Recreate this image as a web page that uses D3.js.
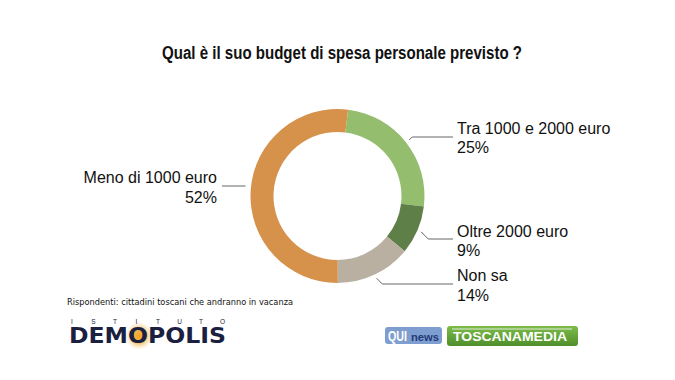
<!DOCTYPE html>
<html><head><meta charset="utf-8">
<script src="https://cdn.jsdelivr.net/npm/d3@7"></script>
<style>body{margin:0;background:#fff}svg{display:block}</style>
</head><body>
<svg id="c" width="675" height="380"></svg>
<script>
const categories = ["Tra 1000 e 2000 euro","Oltre 2000 euro","Non sa","Meno di 1000 euro"];
const values = [25, 9, 14, 52];
const colors = ["#94bd6e","#5f7f48","#b9b0a1","#d6914b"];
const title = "Qual è il suo budget di spesa personale previsto ?";
const note = "Rispondenti: cittadini toscani che andranno in vacanza";

const svg = d3.select("#c");
const W = 675, H = 380;
svg.append("rect").attr("width",W).attr("height",H).attr("fill","#fff");

svg.append("text").attr("x",342).attr("y",59).attr("text-anchor","middle")
  .attr("font-family","'Liberation Sans Narrow','Liberation Sans',Arial,sans-serif")
  .attr("font-weight","bold").attr("font-size",18).attr("fill","#111")
  .attr("textLength",360).attr("lengthAdjust","spacingAndGlyphs").text(title);

const cx = 337.5, cy = 196, R = 87, r = 64;
const start = 7 * Math.PI / 180;
const pie = d3.pie().sort(null).value(d => d).startAngle(start).endAngle(start + 2*Math.PI);
const arcs = pie(values);
const arc = d3.arc().innerRadius(r).outerRadius(R);
const g = svg.append("g").attr("transform",`translate(${cx},${cy})`);
g.selectAll("path").data(arcs).enter().append("path")
  .attr("d",arc).attr("fill",(d,i)=>colors[i]);

// labels
const font = "'Liberation Sans',Arial,Helvetica,sans-serif";
const lab = [
  {i:0, tx:457, y1:134, y2:153, anchor:"start", lineY:137},
  {i:1, tx:457, y1:237, y2:256, anchor:"start", lineY:239},
  {i:2, tx:457, y1:281, y2:301, anchor:"start", lineY:284},
  {i:3, tx:217, y1:183, y2:203, anchor:"end", lineY:186}
];
const lineR = R + 4;
lab.forEach(L => {
  const a = arcs[L.i];
  const mid = (a.startAngle + a.endAngle)/2;
  let px = cx + Math.sin(mid)*lineR, py = cy - Math.cos(mid)*lineR;
  let pts;
  if (L.anchor === "start") {
    const ex = px + Math.abs(L.lineY - py);
    pts = [[px,py],[ex,L.lineY],[453,L.lineY]];
  } else {
    pts = [[cx - R - 5, L.lineY],[222, L.lineY]];
  }
  svg.append("path").attr("d", d3.line()(pts)).attr("fill","none")
    .attr("stroke","#555").attr("stroke-width",0.9);
  svg.append("text").attr("x",L.tx).attr("y",L.y1).attr("text-anchor",L.anchor)
    .attr("font-family",font).attr("font-size",16).attr("fill","#111").text(categories[L.i]);
  svg.append("text").attr("x",L.tx).attr("y",L.y2).attr("text-anchor",L.anchor)
    .attr("font-family",font).attr("font-size",16).attr("fill","#111").text(values[L.i] + "%");
});

svg.append("text").attr("x",67).attr("y",305).attr("font-family","'DejaVu Sans',sans-serif")
  .attr("font-size",9.5).attr("fill","#111").attr("textLength",226)
  .attr("lengthAdjust","spacingAndGlyphs").text(note);

// DEMOPOLIS logo
const defs = svg.append("defs");
const rg = defs.append("radialGradient").attr("id","sun");
rg.append("stop").attr("offset","0%").attr("stop-color","#f4a21c");
rg.append("stop").attr("offset","45%").attr("stop-color","#f0b040").attr("stop-opacity",0.9);
rg.append("stop").attr("offset","100%").attr("stop-color","#f5d9a0").attr("stop-opacity",0);
svg.append("circle").attr("cx",139).attr("cy",336).attr("r",14).attr("fill","url(#sun)");
"ISTITUTO".split("").forEach((ch,k)=>{
  svg.append("text").attr("x",72 + k*21.5).attr("y",324).attr("text-anchor","middle")
    .attr("font-family",font).attr("font-size",6.5).attr("fill","#1c2040").text(ch);
});
svg.append("text").attr("x",69).attr("y",343).attr("font-family","'DejaVu Sans',sans-serif")
  .attr("font-weight","bold").attr("font-size",21).attr("fill","#1c2040")
  .attr("textLength",157).attr("lengthAdjust","spacingAndGlyphs").text("DEMOPOLIS");

// QUI news logo
svg.append("rect").attr("x",385).attr("y",327).attr("width",57).attr("height",17).attr("rx",3)
  .attr("fill","#7f9ed0");
svg.append("text").attr("x",388).attr("y",341).attr("font-family",font).attr("font-weight","bold")
  .attr("font-size",14).attr("fill","#fff").attr("textLength",19).attr("lengthAdjust","spacingAndGlyphs").text("QUI");
svg.append("text").attr("x",411).attr("y",341).attr("font-family",font).attr("font-weight","bold")
  .attr("font-size",10).attr("fill","#1f3a78").attr("textLength",28).attr("lengthAdjust","spacingAndGlyphs").text("news");
// TOSCANAMEDIA logo
const gg = defs.append("linearGradient").attr("id","grn").attr("x1",0).attr("y1",0).attr("x2",0).attr("y2",1);
gg.append("stop").attr("offset","0%").attr("stop-color","#7dbb4a");
gg.append("stop").attr("offset","100%").attr("stop-color","#4f8f2a");
svg.append("rect").attr("x",447).attr("y",326).attr("width",131).attr("height",20).attr("rx",3)
  .attr("fill","url(#grn)");
svg.append("line").attr("x1",452).attr("x2",572).attr("y1",329).attr("y2",329).attr("stroke","#fff").attr("stroke-width",0.8);
svg.append("text").attr("x",453).attr("y",341).attr("font-family",font).attr("font-weight","bold")
  .attr("font-size",13).attr("fill","#fff").attr("textLength",114).attr("lengthAdjust","spacingAndGlyphs").text("TOSCANAMEDIA");
</script>
</body></html>
